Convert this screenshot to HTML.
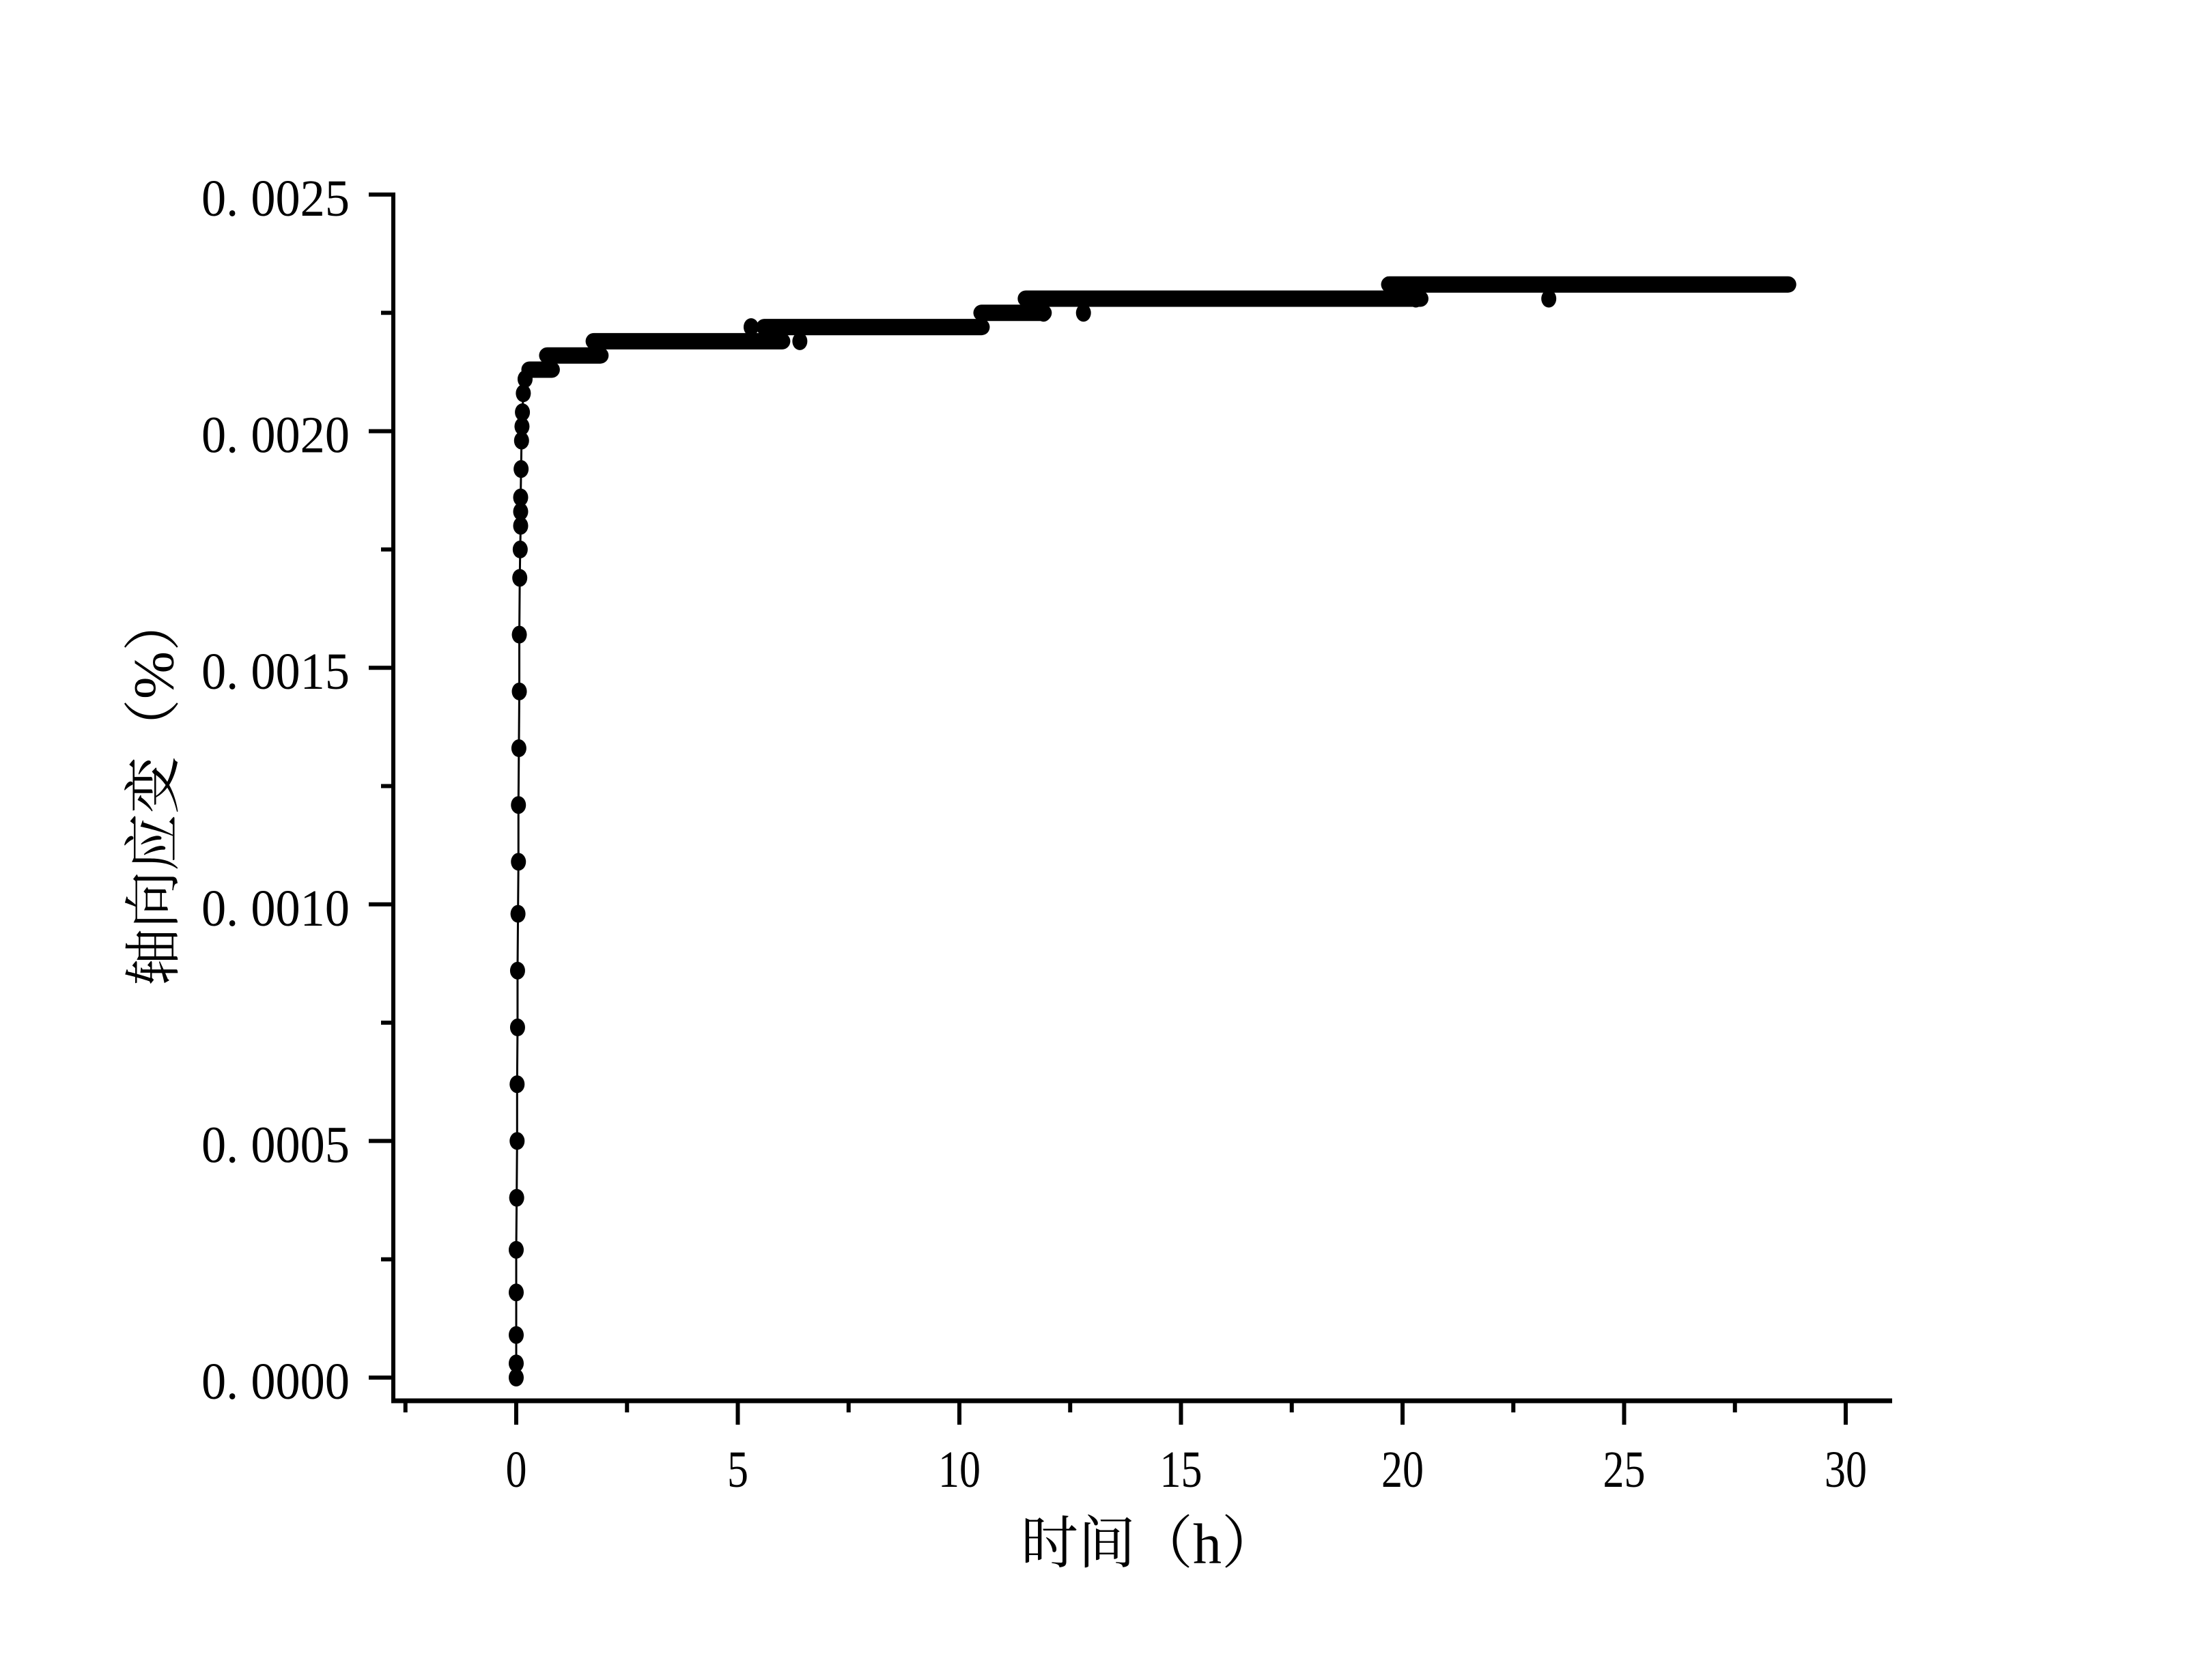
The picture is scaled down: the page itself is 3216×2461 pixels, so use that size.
<!DOCTYPE html>
<html><head><meta charset="utf-8"><style>
html,body{margin:0;padding:0;background:#fff;}
svg{display:block;}
text{font-family:"Liberation Serif","Noto Serif CJK SC",serif;fill:#000;}
</style></head><body>
<svg id="chart" width="3216" height="2461" viewBox="0 0 3216 2461" xmlns="http://www.w3.org/2000/svg">
<rect width="3216" height="2461" fill="#fff"/>
<g id="plot"></g>
<g id="axes"></g>
<text x="226" y="1157" font-size="84" text-anchor="middle" dominant-baseline="central" transform="rotate(-90 226 1157)">轴向应变（%）</text>
<text x="1684" y="2262" font-size="84" text-anchor="middle" dominant-baseline="central">时间（h）</text>
</svg>
<script>
// rising phase points
const riseTimes = [0,0,0,0,0,0.01,0.02,0.02,0.03,0.03,0.04,0.05,0.05,0.06,0.07,0.07,0.08,0.09,0.1,0.1,0.1,0.11,0.12,0.13,0.14,0.16,0.2];
const riseValues = [0,0.00003,0.00009,0.00018,0.00027,0.00038,0.0005,0.00062,0.00074,0.00086,0.00098,0.00109,0.00121,0.00133,0.00145,0.00157,0.00169,0.00175,0.0018,0.00183,0.00186,0.00192,0.00198,0.00201,0.00204,0.00208,0.00211];
// plateau segments (dense measurements)
const segStart = [0.3,0.7,1.75,5.6,10.5,11.5,19.7];
const segEnd = [0.8,1.9,6.0,10.5,11.9,20.4,28.7];
const segValues = [0.00213,0.00216,0.00219,0.00222,0.00225,0.00228,0.00231];
// isolated outliers
const outTimes = [5.3,6.4,11.9,12.8,23.3,20.3];
const outValues = [0.00222,0.00219,0.00225,0.00225,0.00228,0.00228];
// ticks
const xTicks = [0,5,10,15,20,25,30];
const xMinor = [-2.5,2.5,7.5,12.5,17.5,22.5,27.5];
const yTicks = [0,0.0005,0.001,0.0015,0.002,0.0025];
const yTickLabels = ["0. 0000","0. 0005","0. 0010","0. 0015","0. 0020","0. 0025"];
const yMinor = [0.00025,0.00075,0.00125,0.00175,0.00225];

const NS="http://www.w3.org/2000/svg";
const X0=756, XS=64.9, Y0=2018, YS=693200;
function sx(t){return X0+t*XS;}
function sy(v){return Y0-v*YS;}
function mk(tag,parent,attrs){const e=document.createElementNS(NS,tag);for(const k in attrs)e.setAttribute(k,attrs[k]);parent.appendChild(e);return e;}
const plot=document.getElementById('plot'), axes=document.getElementById('axes');
const R=11;
let d='M'+sx(riseTimes[0])+','+sy(riseValues[0]);
for(let i=1;i<riseTimes.length;i++) d+=' L'+sx(riseTimes[i])+','+sy(riseValues[i]);
for(let i=0;i<segStart.length;i++){d+=' L'+sx(segStart[i])+','+sy(segValues[i])+' L'+sx(segEnd[i])+','+sy(segValues[i]);}
const ln=mk('path',plot,{d:d,fill:'none',stroke:'#000','stroke-width':3});


for(let i=0;i<segStart.length;i++){
  const s=mk('line',plot,{x1:sx(segStart[i]),y1:sy(segValues[i]),x2:sx(segEnd[i]),y2:sy(segValues[i]),stroke:'#000','stroke-width':2*R+2,'stroke-linecap':'round'});
  
  
}
for(let i=0;i<riseTimes.length;i++){
  const c=mk('ellipse',plot,{cx:sx(riseTimes[i]),cy:sy(riseValues[i]),rx:R,ry:R+2,fill:'#000'});
  
  
}
for(let i=0;i<outTimes.length;i++){
  const c=mk('ellipse',plot,{cx:sx(outTimes[i]),cy:sy(outValues[i]),rx:R,ry:R+2,fill:'#000'});
  
  
}
const AX=576, AY=2052, XEND=2771, YTOP=285;
const ya=mk('line',axes,{x1:AX,y1:YTOP-3,x2:AX,y2:AY+3,stroke:'#000','stroke-width':6});


const xa=mk('line',axes,{x1:AX-3,y1:AY,x2:XEND,y2:AY,stroke:'#000','stroke-width':7});


yTicks.forEach((v,i)=>{
  const t=mk('line',axes,{x1:AX-36,y1:sy(v),x2:AX,y2:sy(v),stroke:'#000','stroke-width':6});
  
  
  const tx=mk('text',axes,{x:512,y:sy(v)+31,'font-size':76,'text-anchor':'end',textLength:217,lengthAdjust:'spacingAndGlyphs'});
  tx.textContent=yTickLabels[i];
  
  
});
yMinor.forEach(v=>{
  const t=mk('line',axes,{x1:AX-18,y1:sy(v),x2:AX,y2:sy(v),stroke:'#000','stroke-width':6});
  
  
});
xTicks.forEach(v=>{
  const t=mk('line',axes,{x1:sx(v),y1:AY,x2:sx(v),y2:AY+35,stroke:'#000','stroke-width':6});
  
  
  const s=String(v);
  const tx=mk('text',axes,{x:sx(v),y:2178,'font-size':76,'text-anchor':'middle',textLength:s.length*31,lengthAdjust:'spacingAndGlyphs'});
  tx.textContent=s;
  
  
});
xMinor.forEach(v=>{
  const t=mk('line',axes,{x1:sx(v),y1:AY,x2:sx(v),y2:AY+17,stroke:'#000','stroke-width':6});
  
  
});
</script>
</body></html>
